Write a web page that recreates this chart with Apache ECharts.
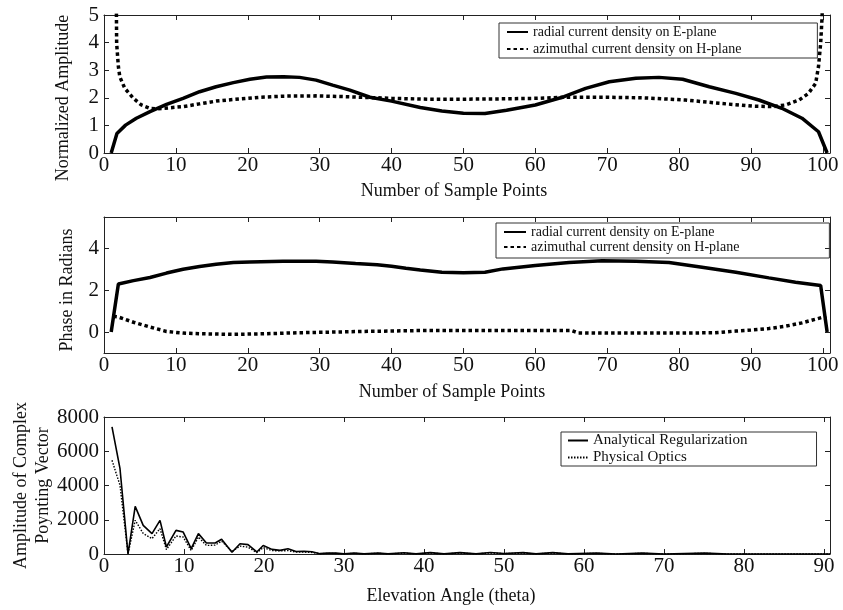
<!DOCTYPE html>
<html>
<head>
<meta charset="utf-8">
<script src="https://cdn.jsdelivr.net/npm/echarts@6/dist/echarts.min.js"></script>
<style>
html,body{margin:0;padding:0;background:#fff;}
#chart{width:843px;height:610px;}
</style>
</head>
<body>
<div id="chart"></div>
<script>
// 上图: 归一化幅度 (采样点, 值)
const ampRadialX = [1, 1.8, 3, 4.5, 6.4, 8.7, 11, 13.3, 15.6, 18, 20.3, 22.6, 25, 27.2, 29.5, 31.8, 34.2, 37, 40, 44, 47, 50, 53, 56, 60, 64, 67, 70.3, 74, 77.2, 80.5, 84.2, 87.9, 91.1, 94.3, 97.1, 99.4, 100.6];
const ampRadialY = [0, 0.71, 1.01, 1.26, 1.50, 1.76, 1.98, 2.22, 2.40, 2.55, 2.67, 2.75, 2.76, 2.74, 2.64, 2.46, 2.28, 2.02, 1.88, 1.65, 1.52, 1.44, 1.43, 1.55, 1.74, 2.04, 2.34, 2.58, 2.71, 2.74, 2.67, 2.40, 2.16, 1.92, 1.62, 1.26, 0.77, 0];
const ampAzimX = [1.7, 1.76, 2.0, 2.2, 2.9, 4.1, 5.2, 6.4, 7.5, 9.2, 11, 13.3, 15.6, 18, 21.7, 25, 29.5, 33.7, 40, 45, 50, 55, 60, 64, 70, 75, 80.9, 85.6, 90.2, 93, 94.8, 96.7, 98, 99, 99.4, 99.7, 99.9, 100];
const ampAzimY = [6, 3.97, 3.13, 2.76, 2.34, 1.98, 1.74, 1.62, 1.60, 1.64, 1.68, 1.78, 1.88, 1.94, 2.02, 2.06, 2.07, 2.04, 1.98, 1.95, 1.95, 1.96, 1.98, 2.02, 2.02, 2.0, 1.92, 1.80, 1.70, 1.68, 1.74, 1.92, 2.16, 2.52, 3.13, 3.97, 4.94, 6];

// 中图: 相位 (弧度)
const phRadialX = [1, 2, 4.1, 6.4, 8.7, 11, 13.3, 15.6, 18, 20.3, 24.9, 29.5, 31.8, 35, 38, 40, 42, 44, 47, 50, 53, 55.5, 60, 64.7, 69.3, 74, 78.6, 83.2, 87.9, 92.5, 96.2, 99.7, 100.6];
const phRadialY = [0, 2.30, 2.46, 2.61, 2.82, 3.0, 3.13, 3.24, 3.32, 3.35, 3.38, 3.38, 3.35, 3.28, 3.22, 3.15, 3.05, 2.97, 2.86, 2.84, 2.86, 3.02, 3.18, 3.33, 3.41, 3.38, 3.33, 3.10, 2.86, 2.59, 2.38, 2.23, 0];
const phAzimX = [1.3, 2, 4.1, 6.4, 8.7, 11, 13.3, 18, 22.6, 27.2, 31.8, 36, 40, 45, 50, 55, 60, 65, 66, 70, 75, 80, 85, 87.9, 90, 92.5, 94.8, 97.1, 99.9, 100.5];
const phAzimY = [0.75, 0.72, 0.47, 0.24, 0.03, -0.05, -0.08, -0.11, -0.08, -0.03, 0.0, 0.03, 0.05, 0.08, 0.08, 0.08, 0.08, 0.08, -0.04, -0.05, -0.05, -0.05, -0.03, 0.05, 0.10, 0.17, 0.28, 0.44, 0.70, 0.65];

// 下图: 坡印廷矢量幅度 vs 仰角
const angleX = [1, 2, 3, 3.9, 4.9, 6, 7, 7.8, 9, 9.9, 10.9, 11.8, 12.8, 13.9, 14.7, 16, 17, 18, 19.1, 19.9, 21, 22, 23, 24, 25, 26, 27, 28, 29, 30, 31.3, 32.5, 34.3, 35.5, 37.5, 39, 40.8, 42.5, 44.5, 46.5, 48.3, 50, 52.4, 54, 56.1, 58, 61.6, 64, 67.3, 70, 75.1, 78, 85, 90.75];
const regY = [7420, 4980, 0, 2780, 1670, 1190, 1960, 410, 1380, 1280, 310, 1190, 640, 640, 860, 100, 600, 550, 120, 500, 270, 210, 310, 150, 160, 130, 20, 60, 50, 5, 60, 5, 60, 5, 70, 10, 80, 5, 80, 5, 90, 30, 80, 5, 80, 5, 50, 0, 50, 0, 50, 0, 0, 0];
const poY = [5470, 4010, 0, 1970, 1200, 900, 1480, 260, 1050, 990, 200, 990, 500, 520, 750, 150, 460, 400, 80, 370, 200, 180, 200, 110, 110, 90, 10, 40, 30, 5, 40, 5, 40, 5, 50, 5, 55, 5, 55, 5, 60, 20, 55, 5, 55, 5, 35, 0, 35, 0, 35, 0, 0, 0];

// 刻度
const sampleTicks = [0, 10, 20, 30, 40, 50, 60, 70, 80, 90, 100];
const ampTicks = [0, 1, 2, 3, 4, 5];
const phaseTicks = [0, 2, 4];
const angleTicks = [0, 10, 20, 30, 40, 50, 60, 70, 80, 90];
const poyntingTicks = [0, 2000, 4000, 6000, 8000];

const nameRadial = 'radial current density on E-plane';
const nameAzim = 'azimuthal current density on H-plane';
const nameReg = 'Analytical Regularization';
const namePO = 'Physical Optics';

const font = '"Liberation Serif", "Times New Roman", serif';

function zip(xs, ys){
	return xs.map((x, i) => [x, ys[i]]);
}

// 坐标轴公共样式
function xAx(grid, min, max, ticks, name, gap, showLabel, pos, pad){
	return {
		type:'value', gridIndex:grid, min:min, max:max, position:pos,
		name: showLabel ? name : '', nameLocation:'middle', nameGap:gap, nameMoveOverlap:false,
		nameTextStyle:{fontFamily:font, fontSize:18, color:'#111', padding:pad},
		axisLine:{show:true, onZero:false, lineStyle:{color:'#222', width:1}},
		axisTick:{show:true, inside:true, length:5, customValues:ticks, lineStyle:{color:'#222'}},
		axisLabel:{show:showLabel, customValues:ticks, margin:2, fontFamily:font, fontSize:21, color:'#111',
			formatter:v => String(v)},
		splitLine:{show:false}
	};
}
function yAx(grid, min, max, ticks, name, gap, showLabel, pos, pad){
	return {
		type:'value', gridIndex:grid, min:min, max:max, position:pos,
		name: showLabel ? name : '', nameLocation:'middle', nameGap:gap, nameMoveOverlap:false,
		nameTextStyle:{fontFamily:font, fontSize:18, color:'#111', lineHeight:22, padding:pad},
		axisLine:{show:true, onZero:false, lineStyle:{color:'#222', width:1}},
		axisTick:{show:true, inside:true, length:5, customValues:ticks, lineStyle:{color:'#222'}},
		axisLabel:{show:showLabel, customValues:ticks, margin:5, fontFamily:font, fontSize:21, color:'#111',
			formatter:v => String(v)},
		splitLine:{show:false}
	};
}

let legendText = {fontFamily:font, fontSize:14, color:'#111'};

let myChart = echarts.init(document.getElementById('chart'));
myChart.setOption({
	animation:false,
	backgroundColor:'#fff',
	grid:[
		{left:104, top:15, width:726, height:138, outerBoundsMode:'none'},
		{left:104, top:217, width:726, height:136, outerBoundsMode:'none'},
		{left:104, top:417, width:726, height:137, outerBoundsMode:'none'}
	],
	legend:[
		{left:499, top:23, orient:'vertical', data:[nameRadial, nameAzim], selectedMode:false,
			itemWidth:21, itemHeight:14, itemGap:3, padding:[2, 76, 2, 7],
			itemStyle:{opacity:0},
			borderColor:'#333', borderWidth:1, textStyle:legendText},
		{left:496, top:223, orient:'vertical', data:[nameRadial, nameAzim], selectedMode:false,
			itemWidth:22, itemHeight:13, itemGap:1, padding:[2, 90, 4, 7],
			itemStyle:{opacity:0},
			borderColor:'#333', borderWidth:1, textStyle:legendText},
		{left:561, top:432, orient:'vertical', data:[nameReg, namePO], selectedMode:false,
			itemWidth:20, itemHeight:15, itemGap:2, padding:[1, 69, 1, 6],
			itemStyle:{opacity:0},
			borderColor:'#333', borderWidth:1,
			textStyle:{fontFamily:font, fontSize:15, color:'#111'}}
	],
	xAxis:[
		xAx(0, 0, 101, sampleTicks, 'Number of Sample Points', 29, true, 'bottom', [0, 26, 0, 0]),
		xAx(0, 0, 101, sampleTicks, '', 0, false, 'top', 0),
		xAx(1, 0, 101, sampleTicks, 'Number of Sample Points', 30, true, 'bottom', [0, 30, 0, 0]),
		xAx(1, 0, 101, sampleTicks, '', 0, false, 'top', 0),
		xAx(2, 0, 90.75, angleTicks, 'Elevation Angle (theta)', 33, true, 'bottom', [0, 32, 0, 0]),
		xAx(2, 0, 90.75, angleTicks, '', 0, false, 'top', 0)
	],
	yAxis:[
		yAx(0, 0, 5, ampTicks, 'Normalized Amplitude', 30, true, 'left', [0, 28, 0, 0]),
		yAx(0, 0, 5, ampTicks, '', 0, false, 'right', 0),
		yAx(1, -1, 5.5, phaseTicks, 'Phase in Radians', 26, true, 'left', [0, 10, 0, 0]),
		yAx(1, -1, 5.5, phaseTicks, '', 0, false, 'right', 0),
		yAx(2, 0, 8000, poyntingTicks, 'Amplitude of Complex\nPoynting Vector', 50, true, 'left', 0),
		yAx(2, 0, 8000, poyntingTicks, '', 0, false, 'right', 0)
	],
	series:[
		{name:nameRadial, type:'line', xAxisIndex:0, yAxisIndex:0, symbol:'none', itemStyle:{color:'#000'},
			lineStyle:{color:'#000', width:3.5}, data:zip(ampRadialX, ampRadialY)},
		{name:nameAzim, type:'line', xAxisIndex:0, yAxisIndex:0, symbol:'none', itemStyle:{color:'#000'},
			lineStyle:{color:'#000', width:3.5, type:[3.5, 3]}, data:zip(ampAzimX, ampAzimY)},
		{name:nameRadial, type:'line', xAxisIndex:2, yAxisIndex:2, symbol:'none', itemStyle:{color:'#000'},
			lineStyle:{color:'#000', width:3.5}, data:zip(phRadialX, phRadialY)},
		{name:nameAzim, type:'line', xAxisIndex:2, yAxisIndex:2, symbol:'none', itemStyle:{color:'#000'},
			lineStyle:{color:'#000', width:3.5, type:[3.5, 3]}, data:zip(phAzimX, phAzimY)},
		{name:nameReg, type:'line', xAxisIndex:4, yAxisIndex:4, symbol:'none', itemStyle:{color:'#000'},
			lineStyle:{color:'#000', width:1.6}, data:zip(angleX, regY)},
		{name:namePO, type:'line', xAxisIndex:4, yAxisIndex:4, symbol:'none', itemStyle:{color:'#000'},
			lineStyle:{color:'#000', width:1.4, type:[1.5, 1.5]}, data:zip(angleX, poY)}
	]
});
</script>
</body>
</html>
